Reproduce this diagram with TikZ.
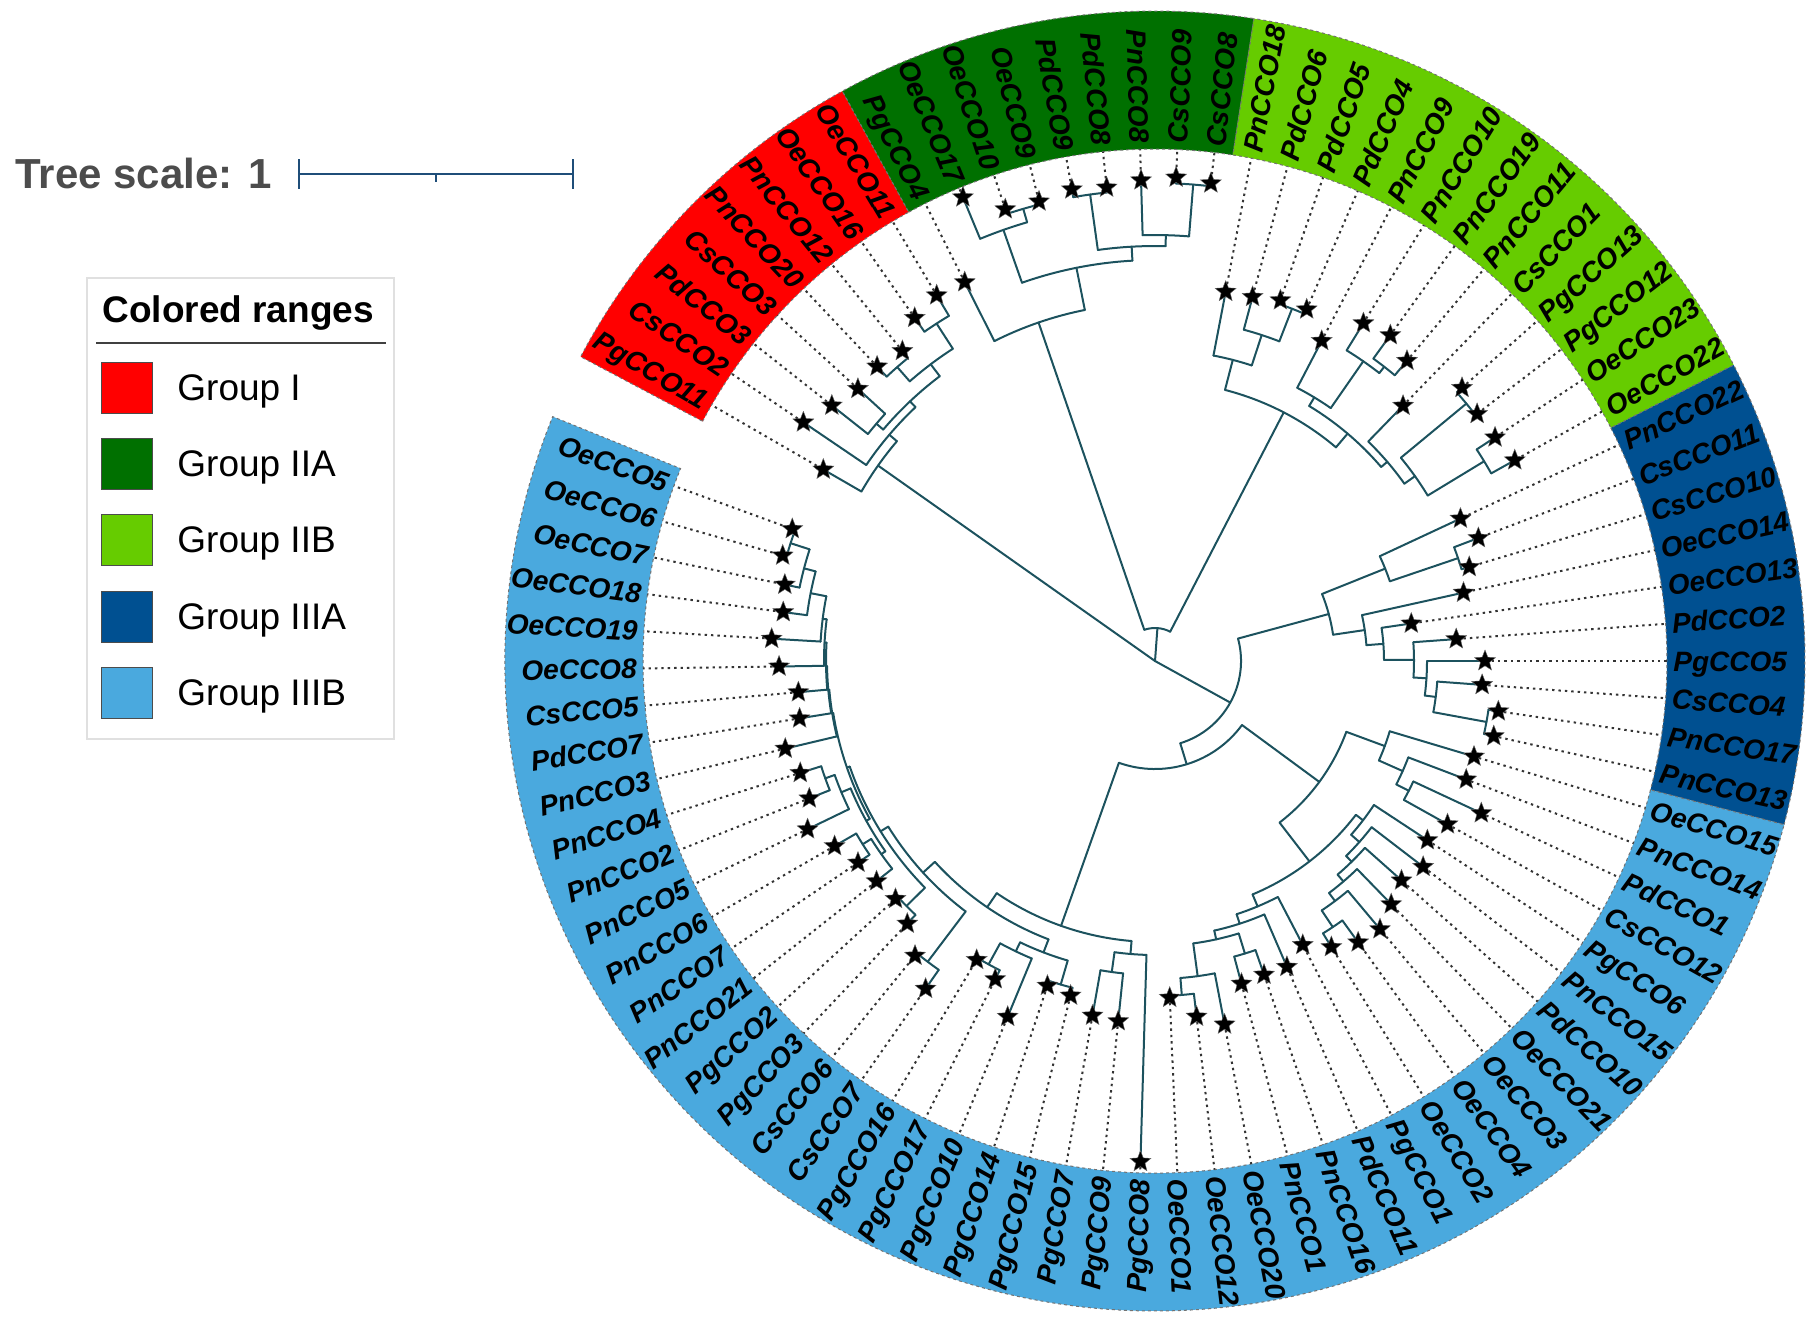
\documentclass[tikz,border=0pt]{standalone}
\usepackage{fontspec}
\setmainfont{Liberation Sans}
\usetikzlibrary{shapes.geometric}
\definecolor{brc}{RGB}{28,82,94}
\definecolor{gI}{RGB}{255,0,0}
\definecolor{gIIA}{RGB}{0,112,0}
\definecolor{gIIB}{RGB}{102,204,0}
\definecolor{gIIIA}{RGB}{0,80,145}
\definecolor{gIIIB}{RGB}{74,169,222}
\definecolor{scl}{RGB}{31,78,121}
\newcommand\pa[1]{(150-(#1)*4.1666667)}
\newcommand\PP[1]{\csname ppX#1\endcsname}
\newcommand\cl[5]{%
  \pgfmathsetmacro\tmpp{((#3)+(#4))/2}%
  \expandafter\xdef\csname ppX#1\endcsname{\tmpp}%
  \draw[br] ({\pa{#3}}:#2) arc[start angle={\pa{#3}}, end angle={\pa{#4}}, radius=#2];%
  \draw[br] ({\pa{\tmpp}}:#5) -- ({\pa{\tmpp}}:#2);%
}
\newcommand\lf[4]{%
  \draw[br] ({\pa{#1}}:#3) -- ({\pa{#1}}:#2);%
  \node[st] (s#1) at ({\pa{#1}}:#2) {};%
  \coordinate (b#1) at ({\pa{#1}}:512);%
  \draw[dl] (s#1) -- (b#1);%
  \ifnum#1<15 \node[lab,anchor=east,rotate={\pa{#1}+180}] (t#1) at ({\pa{#1}}:518) {#4};%
  \else\ifnum#1>57 \node[lab,anchor=east,rotate={\pa{#1}+180}] (t#1) at ({\pa{#1}}:518) {#4};%
  \else \node[lab,anchor=west,rotate={\pa{#1}}] (t#1) at ({\pa{#1}}:518) {#4};%
  \fi\fi
}
\newcommand\band[3]{%
  \filldraw[fill=#1, bandedge] ({\pa{#2-0.5}}:512) arc[start angle={\pa{#2-0.5}}, end angle={\pa{#3+0.5}}, radius=512] -- ({\pa{#3+0.5}}:650) arc[start angle={\pa{#3+0.5}}, end angle={\pa{#2-0.5}}, radius=650] -- cycle;%
}
\begin{document}
\begin{tikzpicture}[x=0.5pt,y=0.5pt,
  br/.style={draw=brc, line width=1pt, line cap=round},
  dl/.style={draw=black!80, line width=1pt, dash pattern=on 1.2pt off 2pt},
  st/.style={star, star points=5, star point ratio=2.3, fill=black, draw=black!60, line width=0.2pt, minimum size=11pt, inner sep=0pt},
  lab/.style={font=\fontsize{14}{14}\selectfont\bfseries\itshape, inner sep=0pt, text height=10pt, text depth=0pt},
  bandedge/.style={draw=black!55, line width=0.5pt, dash pattern=on 1.5pt off 1.5pt},
  legtxt/.style={anchor=base west, font=\fontsize{18.5}{18.5}\selectfont, inner sep=0pt},
  sw/.style={draw=black!70, line width=0.5pt, minimum width=25.5pt, minimum height=25.5pt, inner sep=0pt, anchor=north west}]
\useasboundingbox (0,0) rectangle (1818,-1324);
% ---- tree scale ----
\node[anchor=base west, font=\fontsize{21}{21}\selectfont\bfseries, text=black!70, inner sep=0pt] (ts) at (15,-188) {Tree scale: 1};
\coordinate (sb1) at (299,-174); \coordinate (sb2) at (573,-174); \coordinate (sbm) at (436,-174);
\draw[scl, line width=1pt] (sb1) -- (sb2);
\draw[scl, line width=1pt] ([yshift=7.5]sb1) -- ([yshift=-7.5]sb1);
\draw[scl, line width=1pt] ([yshift=7.5]sb2) -- ([yshift=-7.5]sb2);
\draw[scl, line width=1pt] (sbm) -- ([yshift=-4]sbm);
% ---- legend ----
\draw[draw=black!12, line width=0.8pt] (87,-278) rectangle (394,-739);
\node[anchor=base west, font=\fontsize{18.5}{18.5}\selectfont\bfseries, inner sep=0pt] (lt) at (102,-322) {Colored ranges};
\draw[black!75, line width=1pt] (96,-343) -- (386,-343);
\node[sw, fill=gI] (sw1) at (101,-362) {};
\node[sw, fill=gIIA] (sw2) at (101,-438.2) {};
\node[sw, fill=gIIB] (sw3) at (101,-514.4) {};
\node[sw, fill=gIIIA] (sw4) at (101,-590.6) {};
\node[sw, fill=gIIIB] (sw5) at (101,-666.8) {};
\node[legtxt] (lg1) at (177,-400.5) {Group I};
\node[legtxt] (lg2) at (177,-476.7) {Group IIA};
\node[legtxt] (lg3) at (177,-552.9) {Group IIB};
\node[legtxt] (lg4) at (177,-629.1) {Group IIIA};
\node[legtxt] (lg5) at (177,-705.3) {Group IIIB};
% ---- tree ----
\begin{scope}[shift={(1155,-661)}]
\band{gI}{0}{7}
\band{gIIA}{8}{16}
\band{gIIB}{17}{29}
\band{gIIIA}{30}{39}
\band{gIIIB}{40}{84}
% Group I
\cl{N67}{402}{6}{7}{372}
\cl{N45}{391}{4}{5}{372}
\cl{E}{372}{\PP{N45}}{\PP{N67}}{357}
\cl{N23}{366}{2}{3}{357}
\cl{B}{357}{\PP{N23}}{\PP{E}}{349}
\cl{A}{349}{1}{\PP{B}}{339}
\cl{GI}{339}{0}{\PP{A}}{0}
% Group IIA
\cl{N1516}{478}{15}{16}{426}
\cl{I}{426}{14}{\PP{N1516}}{415}
\cl{N1213}{471}{12}{13}{415}
\cl{H}{415}{\PP{N1213}}{\PP{I}}{401}
\cl{N1011}{471}{10}{11}{457}
\cl{F}{457}{9}{\PP{N1011}}{401}
\cl{G}{401}{\PP{F}}{\PP{H}}{358}
\cl{IIA}{358}{8}{\PP{G}}{33}
% Group IIB
\cl{N1920}{378}{19}{20}{343}
\cl{N}{343}{18}{\PP{N1920}}{311}
\cl{J}{311}{17}{\PP{N}}{280}
\cl{N2324}{373}{23}{24}{365}
\cl{P}{365}{22}{\PP{N2324}}{308}
\cl{M}{308}{21}{\PP{P}}{298}
\cl{S}{385}{28}{29}{319}
\cl{N2627}{404}{26}{27}{319}
\cl{Q}{319}{\PP{N2627}}{\PP{S}}{306}
\cl{O}{306}{25}{\PP{Q}}{298}
\cl{K}{298}{\PP{M}}{\PP{O}}{280}
\cl{IIB}{280}{\PP{J}}{\PP{K}}{33}
\cl{II}{33}{\PP{IIA}}{\PP{IIB}}{0}
% Group IIIA
\cl{N3839}{337}{38}{39}{283}
\cl{Z}{283}{37}{\PP{N3839}}{272}
\cl{Y}{272}{36}{\PP{Z}}{259}
\cl{W}{259}{35}{\PP{Y}}{229}
\cl{V}{229}{34}{\PP{W}}{212}
\cl{U}{212}{33}{\PP{V}}{180}
\cl{N3132}{320}{31}{32}{248}
\cl{T}{248}{30}{\PP{N3132}}{180}
\cl{IIIA}{180}{\PP{T}}{\PP{U}}{86}
% Group IIIB, X1
\cl{XaC}{285}{42}{43}{271}
\cl{XaB}{271}{41}{\PP{XaC}}{245}
\cl{Xa}{245}{40}{\PP{XaB}}{204}
\cl{C5}{320}{49}{50}{300}
\cl{C4}{300}{48}{\PP{C5}}{290}
\cl{C3}{290}{47}{\PP{C4}}{281}
\cl{C2}{281}{46}{\PP{C3}}{273}
\cl{C1}{273}{45}{\PP{C2}}{262}
\cl{Xba}{262}{44}{\PP{C1}}{253}
\cl{A6}{335}{56}{57}{318}
\cl{A5}{318}{55}{\PP{A6}}{285}
\cl{A4}{306}{53}{54}{285}
\cl{A3}{285}{\PP{A4}}{\PP{A5}}{276}
\cl{A2}{276}{52}{\PP{A3}}{266}
\cl{Xbb}{266}{51}{\PP{A2}}{253}
\cl{Xb}{253}{\PP{Xba}}{\PP{Xbb}}{204}
\cl{XI}{204}{\PP{Xa}}{\PP{Xb}}{108}
% X2
\cl{D1}{314}{59}{60}{294}
\cl{XR}{294}{58}{\PP{D1}}{281}
\cl{E1a}{337}{61}{62}{312}
\cl{E1c}{346}{64}{65}{322}
\cl{E1b}{322}{63}{\PP{E1c}}{312}
\cl{E1}{312}{\PP{E1a}}{\PP{E1b}}{298}
\cl{E2a}{377}{66}{67}{314}
\cl{E2ba}{349}{68}{69}{323}
\cl{F1a}{345}{71}{72}{335}
\cl{F1}{335}{70}{\PP{F1a}}{330}
\cl{F2a}{350}{74}{75}{340}
\cl{F2}{340}{73}{\PP{F2a}}{330}
\cl{H1}{330}{\PP{F1}}{\PP{F2}}{326}
\cl{N8384}{383}{83}{84}{363}
\cl{G1}{363}{82}{\PP{N8384}}{351}
\cl{G2}{351}{81}{\PP{G1}}{335}
\cl{G3}{335}{80}{\PP{G2}}{331}
\cl{G4}{331}{79}{\PP{G3}}{329}
\cl{G5}{329}{78}{\PP{G4}}{328}
\cl{G6}{328}{77}{\PP{G5}}{327}
\cl{H2}{327}{76}{\PP{G6}}{326}
\cl{E2bb}{326}{\PP{H1}}{\PP{H2}}{323}
\cl{E2b}{323}{\PP{E2ba}}{\PP{E2bb}}{314}
\cl{E2}{314}{\PP{E2a}}{\PP{E2b}}{298}
\cl{XL}{298}{\PP{E1}}{\PP{E2}}{281}
\cl{XII}{281}{\PP{XR}}{\PP{XL}}{108}
\cl{X}{108}{\PP{XI}}{\PP{XII}}{86}
\cl{III}{86}{\PP{IIIA}}{\PP{X}}{0}
% leaves
\lf{0}{383}{339}{PgCCO11}
\lf{1}{425}{349}{CsCCO2}
\lf{2}{412}{366}{PdCCO3}
\lf{3}{403}{366}{CsCCO3}
\lf{4}{405}{391}{PnCCO20}
\lf{5}{400}{391}{PnCCO12}
\lf{6}{419}{402}{OeCCO16}
\lf{7}{426}{402}{OeCCO11}
\lf{8}{424}{358}{PgCCO4}
\lf{9}{502}{457}{OeCCO17}
\lf{10}{476}{471}{OeCCO10}
\lf{11}{474}{471}{OeCCO9}
\lf{12}{479}{471}{PdCCO9}
\lf{13}{476}{471}{PdCCO8}
\lf{14}{481}{426}{PnCCO8}
\lf{15}{484}{478}{CsCCO9}
\lf{16}{481}{478}{CsCCO8}
\lf{17}{376}{311}{PnCCO18}
\lf{18}{377}{343}{PdCCO6}
\lf{19}{382}{378}{PdCCO5}
\lf{20}{383}{378}{PdCCO4}
\lf{21}{361}{308}{PnCCO9}
\lf{22}{397}{365}{PnCCO10}
\lf{23}{402}{373}{PnCCO19}
\lf{24}{392}{373}{PnCCO11}
\lf{25}{356}{306}{CsCCO1}
\lf{26}{411}{404}{PgCCO13}
\lf{27}{406}{404}{PgCCO12}
\lf{28}{407}{385}{OeCCO23}
\lf{29}{412}{385}{OeCCO22}
\lf{30}{337}{248}{PnCCO22}
\lf{31}{346}{320}{CsCCO11}
\lf{32}{328}{320}{CsCCO10}
\lf{33}{316}{212}{OeCCO14}
\lf{34}{259}{229}{OeCCO13}
\lf{35}{302}{259}{PdCCO2}
\lf{36}{330}{272}{PgCCO5}
\lf{37}{328}{283}{CsCCO4}
\lf{38}{347}{337}{PnCCO17}
\lf{39}{347}{337}{PnCCO13}
\lf{40}{333}{245}{OeCCO15}
\lf{41}{333}{271}{PnCCO14}
\lf{42}{360}{285}{PdCCO1}
\lf{43}{335}{285}{CsCCO12}
\lf{44}{326}{262}{PgCCO6}
\lf{45}{338}{273}{PnCCO15}
\lf{46}{330}{281}{PdCCO10}
\lf{47}{339}{290}{OeCCO21}
\lf{48}{350}{300}{OeCCO3}
\lf{49}{347}{320}{OeCCO4}
\lf{50}{336}{320}{OeCCO2}
\lf{51}{320}{266}{PgCCO1}
\lf{52}{333}{276}{PdCCO11}
\lf{53}{332}{306}{PnCCO16}
\lf{54}{334}{306}{PnCCO1}
\lf{55}{370}{318}{OeCCO20}
\lf{56}{358}{335}{OeCCO12}
\lf{57}{337}{335}{OeCCO1}
\lf{58}{501}{294}{PgCCO8}
\lf{59}{362}{314}{PgCCO9}
\lf{60}{360}{314}{PgCCO7}
\lf{61}{345}{337}{PgCCO15}
\lf{62}{342}{337}{PgCCO14}
\lf{63}{385}{322}{PgCCO10}
\lf{64}{356}{346}{PgCCO17}
\lf{65}{348}{346}{PgCCO16}
\lf{66}{400}{377}{CsCCO7}
\lf{67}{380}{377}{CsCCO6}
\lf{68}{361}{349}{PgCCO3}
\lf{69}{352}{349}{PgCCO2}
\lf{70}{355}{335}{PnCCO21}
\lf{71}{359}{345}{PnCCO7}
\lf{72}{370}{345}{PnCCO6}
\lf{73}{386}{340}{PnCCO5}
\lf{74}{372}{350}{PnCCO2}
\lf{75}{372}{350}{PnCCO4}
\lf{76}{380}{327}{PnCCO3}
\lf{77}{360}{328}{PdCCO7}
\lf{78}{358}{329}{CsCCO5}
\lf{79}{376}{331}{OeCCO8}
\lf{80}{384}{335}{OeCCO19}
\lf{81}{375}{351}{OeCCO18}
\lf{82}{378}{363}{OeCCO7}
\lf{83}{387}{383}{OeCCO6}
\lf{84}{386}{383}{OeCCO5}
\end{scope}
\end{tikzpicture}
\end{document}
